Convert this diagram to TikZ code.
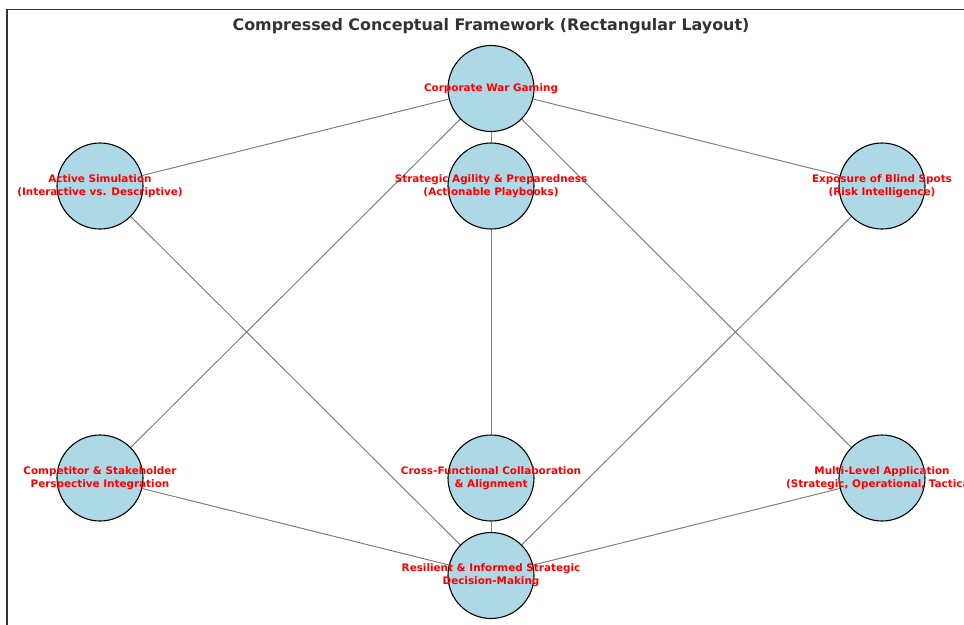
\documentclass[tikz,border=0pt]{standalone}
\usepackage{fontspec}
\setmainfont{DejaVu Sans}
\usetikzlibrary{backgrounds}

\definecolor{hubfill}{HTML}{ADD8E6}
\definecolor{titlegray}{HTML}{333333}

\begin{document}
\begin{tikzpicture}[x=10pt,y=-10pt,
    lbl/.style={text=red,font=\bfseries\fontsize{10.4}{12.8}\selectfont,align=center,inner sep=0pt},
    link/.style={draw=gray,line width=1pt}]
            \useasboundingbox (0,0) rectangle (96.4,62.4);
            \clip (0,0) rectangle (96.4,62.4);
            \draw[titlegray,line width=1.2pt] (0.7,0.95) rectangle (98,64);
            \node[text=titlegray,font=\bfseries\fontsize{15.9}{18}\selectfont] (title) at (49.1,2.6) {Compressed Conceptual Framework (Rectangular Layout)};
            \begin{scope}[every node/.style={circle,draw=black,fill=hubfill,line width=1.1pt,minimum size=86pt,inner sep=0pt}]
                \node (cwg) at (49.1,8.85) {};
                \node (act) at (10.0,18.6) {};
                \node (agi) at (49.1,18.6) {};
                \node (exp) at (88.2,18.6) {};
                \node (com) at (10.0,47.8) {};
                \node (crs) at (49.1,47.8) {};
                \node (mul) at (88.2,47.8) {};
                \node (res) at (49.1,57.55) {};
            \end{scope}
            \node[lbl] (cwg-t) at (cwg) {Corporate War Gaming};
            \node[lbl] (act-t) at (act) {Active Simulation\\(Interactive vs. Descriptive)};
            \node[lbl] (agi-t) at (agi) {Strategic Agility \& Preparedness\\(Actionable Playbooks)};
            \node[lbl] (exp-t) at (exp) {Exposure of Blind Spots\\(Risk Intelligence)};
            \node[lbl] (com-t) at (com) {Competitor \& Stakeholder\\Perspective Integration};
            \node[lbl] (crs-t) at (crs) {Cross-Functional Collaboration\\\& Alignment};
            \node[lbl] (mul-t) at (mul) {Multi-Level Application\\(Strategic, Operational, Tactical)};
            \node[lbl] (res-t) at (res) {Resilient \& Informed Strategic\\Decision-Making};
            \begin{scope}[on background layer]
            \draw (cwg) edge [link] (act);
            \draw (cwg) edge [link] (exp);
            \draw (cwg) edge [link] (agi);
            \draw (cwg) edge [link] (com);
            \draw (cwg) edge [link] (mul);
            \draw (act) edge [link] (res);
            \draw (agi) edge [link] (crs);
            \draw (exp) edge [link] (res);
            \draw (com) edge [link] (res);
            \draw (crs) edge [link] (res);
            \draw (mul) edge [link] (res);
            \end{scope}
        \end{tikzpicture}
\end{document}
